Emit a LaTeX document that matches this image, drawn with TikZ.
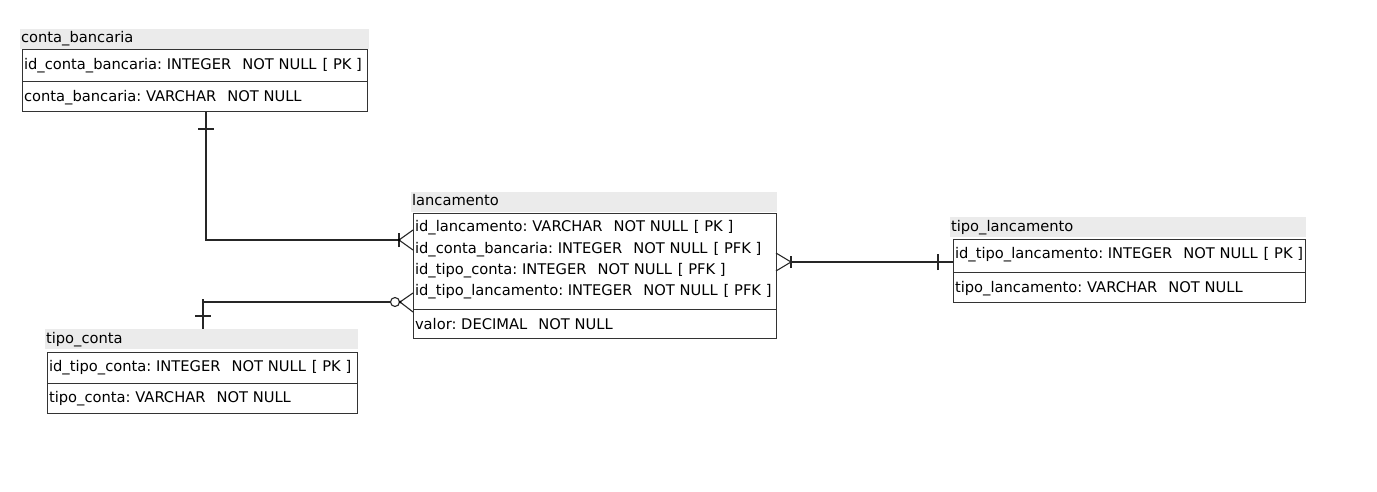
\documentclass[tikz,border=0pt]{standalone}
\usepackage{fontspec}
\setmainfont{DejaVu Sans}
\frenchspacing
\newcommand\gapA{\hspace{11pt}}
\newcommand\gapB{\hspace{6pt}}
\begin{document}
\begin{tikzpicture}[x=1pt,y=-1pt,
  every node/.style={inner sep=0pt, outer sep=0pt},
  tbl/.style={draw=black!80, line width=1pt, anchor=north west, fill=white},
  ttl/.style={fill=black!8, anchor=north west},
  txt/.style={anchor=west, font=\fontsize{14.7}{17}\selectfont, text=black, text height=11pt, text depth=3pt},
  rel/.style={draw=black!85, line width=1.1pt},
  sep/.style={draw=black!80, line width=1pt}]
\path[use as bounding box, fill=white] (0,0) rectangle (1377,492);

% ---------- conta_bancaria ----------
\node[ttl, minimum width=349pt, minimum height=20pt] (cbT) at (20,29) {};
\node[txt] (cbN) at (21,39) {conta\_bancaria};
\node[tbl, minimum width=345pt, minimum height=62pt] (cb) at (22,50) {};
\draw[sep] (cb.west |- 0,82) -- (cb.east |- 0,82);
\node[txt] (cb1) at (24,66) {id\_conta\_bancaria: INTEGER\gapA NOT NULL\gapB [ PK ]};
\node[txt] (cb2) at (24,98) {conta\_bancaria: VARCHAR\gapA NOT NULL};

% ---------- lancamento ----------
\node[ttl, minimum width=366pt, minimum height=20pt] (lcT) at (411,192) {};
\node[txt] (lcN) at (412,202) {lancamento};
\node[tbl, minimum width=363pt, minimum height=125pt] (lc) at (413,213) {};
\draw[sep] (lc.west |- 0,309) -- (lc.east |- 0,309);
\node[txt] (lc1) at (415,228) {id\_lancamento: VARCHAR\gapA NOT NULL\gapB [ PK ]};
\node[txt] (lc2) at (415,249) {id\_conta\_bancaria: INTEGER\gapA NOT NULL\gapB [ PFK ]};
\node[txt] (lc3) at (415,270) {id\_tipo\_conta: INTEGER\gapA NOT NULL\gapB [ PFK ]};
\node[txt] (lc4) at (415,291) {id\_tipo\_lancamento: INTEGER\gapA NOT NULL\gapB [ PFK ]};
\node[txt] (lc5) at (415,325) {valor: DECIMAL\gapA NOT NULL};

% ---------- tipo_lancamento ----------
\node[ttl, minimum width=356pt, minimum height=20pt] (tlT) at (950,217) {};
\node[txt] (tlN) at (951,227) {tipo\_lancamento};
\node[tbl, minimum width=352pt, minimum height=63pt] (tl) at (953,239) {};
\draw[sep] (tl.west |- 0,272) -- (tl.east |- 0,272);
\node[txt] (tl1) at (955,254) {id\_tipo\_lancamento: INTEGER\gapA NOT NULL\gapB [ PK ]};
\node[txt] (tl2) at (955,288) {tipo\_lancamento: VARCHAR\gapA NOT NULL};

% ---------- tipo_conta ----------
\node[ttl, minimum width=313pt, minimum height=20pt] (tcT) at (45,329) {};
\node[txt] (tcN) at (46,339) {tipo\_conta};
\node[tbl, minimum width=310pt, minimum height=61pt] (tc) at (47,352) {};
\draw[sep] (tc.west |- 0,383) -- (tc.east |- 0,383);
\node[txt] (tc1) at (49,367) {id\_tipo\_conta: INTEGER\gapA NOT NULL\gapB [ PK ]};
\node[txt] (tc2) at (49,398) {tipo\_conta: VARCHAR\gapA NOT NULL};

% ---------- connector coordinates ----------
\coordinate (r1a) at (cb.south -| 206,0);
\coordinate (r1p) at (399,240);
\coordinate (r1u) at (lc.west |- 0,230);
\coordinate (r1d) at (lc.west |- 0,250);

\coordinate (r2a) at (tcT.north -| 203,0);
\coordinate (r2t) at (203,299);
\coordinate (r2c) at (395,302);
\coordinate (r2p) at (400,302);
\coordinate (r2u) at (lc.west |- 0,293);
\coordinate (r2d) at (lc.west |- 0,312);

\coordinate (r3a) at (tl.west |- 0,262);
\coordinate (r3p) at (791,262);
\coordinate (r3u) at (lc.east |- 0,253);
\coordinate (r3d) at (lc.east |- 0,271);

% ---------- relation conta_bancaria -> lancamento ----------
\draw[rel] (r1a) |- (r1p);
\draw[rel] (r1u) -- (r1p) -- (r1d);
\draw[rel] ([yshift=-7pt]r1p) -- ([yshift=7pt]r1p);
\fill[black] (r1p) circle (1.5pt);
\draw[rel] ([xshift=-8pt,yshift=-17pt]r1a) -- ([xshift=8pt,yshift=-17pt]r1a);

% ---------- relation tipo_conta -> lancamento ----------
\draw[rel] (r2t) -- (r2a);
\draw[rel] (r2t |- r2c) -- ([xshift=-4.5pt]r2c);
\draw[rel] (r2c) circle (4.5pt);
\draw[rel] (r2u) -- (r2p) -- (r2d);
\fill[black] (r2p) circle (1.5pt);
\draw[rel] ([xshift=-8pt,yshift=13pt]r2a) -- ([xshift=8pt,yshift=13pt]r2a);

% ---------- relation tipo_lancamento -> lancamento ----------
\draw[rel] (r3p) -- (r3a);
\draw[rel] (r3u) -- (r3p) -- (r3d);
\draw[rel] ([yshift=-6pt]r3p) -- ([yshift=6pt]r3p);
\draw[rel] ([xshift=-15pt,yshift=-8pt]r3a) -- ([xshift=-15pt,yshift=8pt]r3a);
\end{tikzpicture}
\end{document}
